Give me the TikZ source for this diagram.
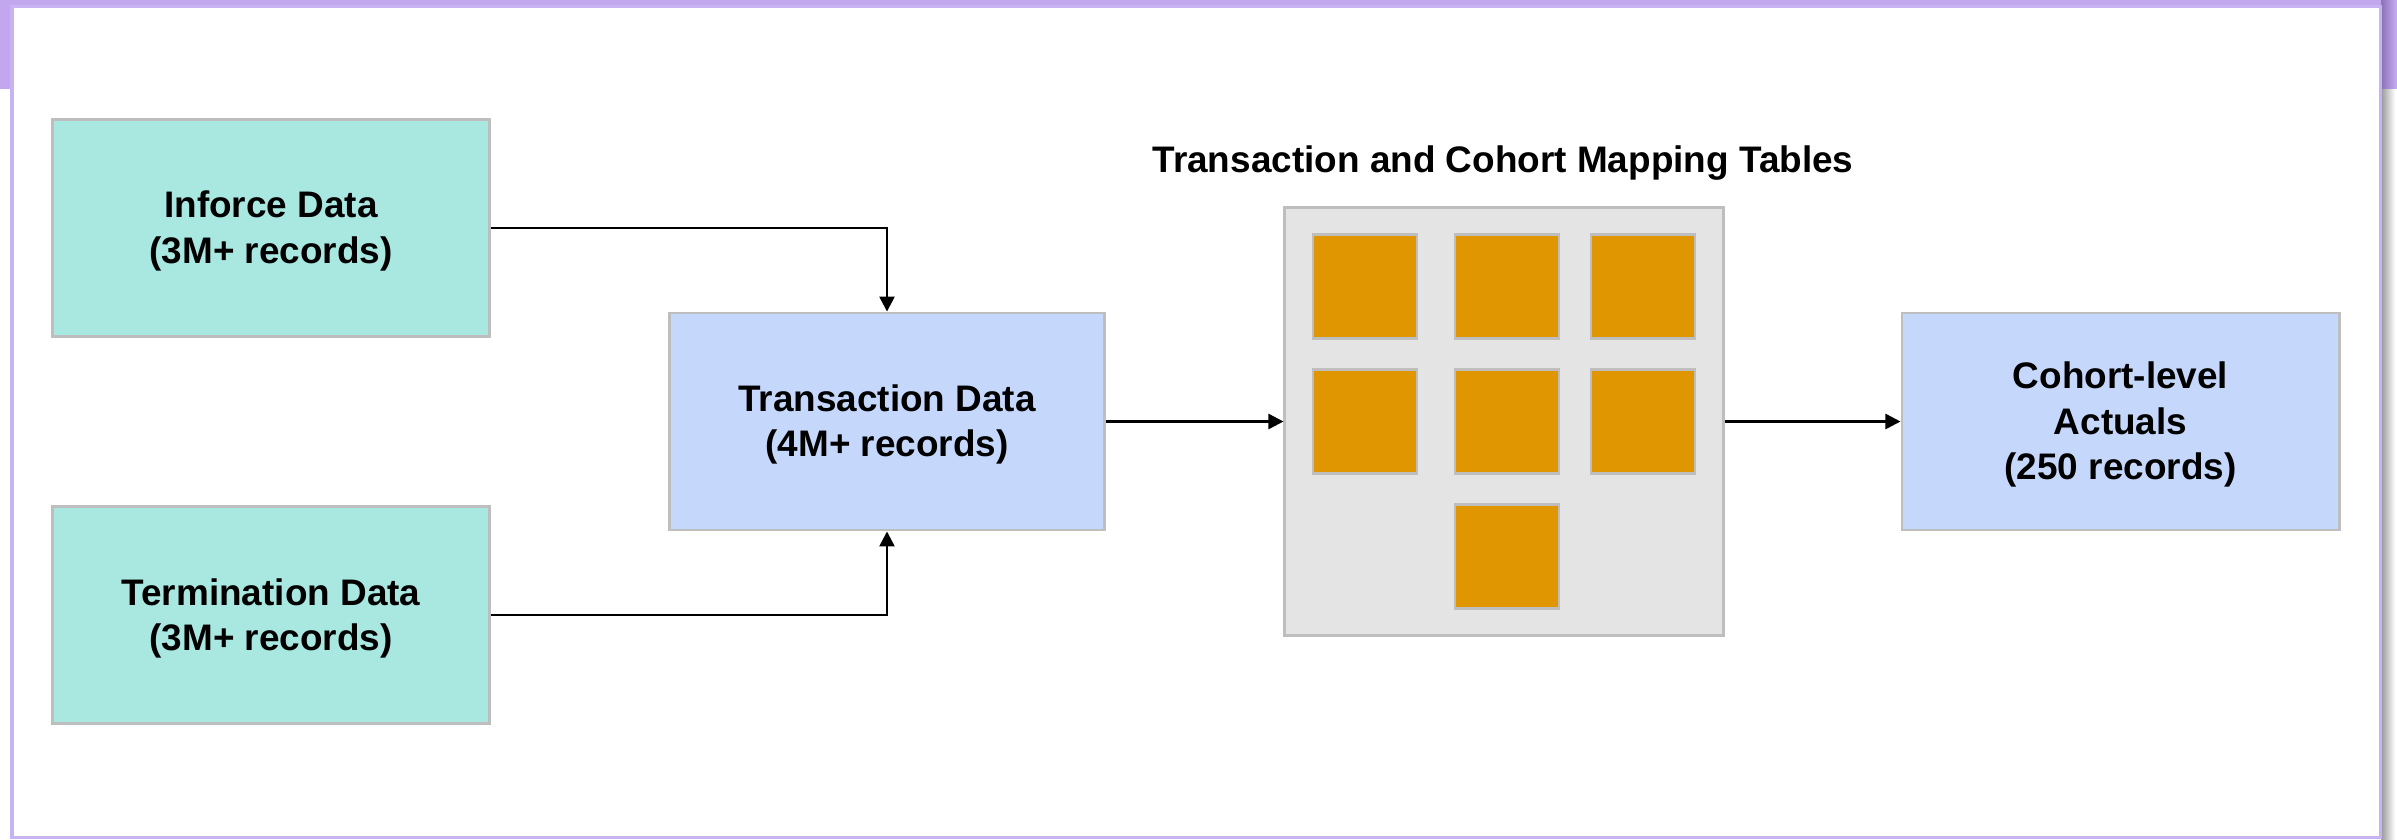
\documentclass[tikz,border=0pt]{standalone}
\usepackage{fontspec}
\setmainfont{Liberation Sans}
\usetikzlibrary{arrows.meta}

\definecolor{barpurple}{HTML}{C2A6EE}
\definecolor{edgepurple}{HTML}{C7B3F2}
\definecolor{shadepurple}{HTML}{8A72B6}
\definecolor{boxgray}{HTML}{BEBEBE}
\definecolor{inputteal}{HTML}{A9E7E1}
\definecolor{stageblue}{HTML}{C5D8FB}
\definecolor{tablegray}{HTML}{E4E4E4}
\definecolor{tableorange}{HTML}{DF9600}

\begin{document}
\begin{tikzpicture}[x = 0.01cm, y = -0.01cm, line width = 0.7pt,
                    datanode/.style = {draw = boxgray, line width = 0.028cm, align = center,
                                       inner sep = 0pt, minimum width = 4.37cm, minimum height = 2.17cm,
                                       text depth = 0.5pt, font = \fontsize{10.5}{12.8}\selectfont\bfseries},
                    tablebox/.style = {draw = boxgray, line width = 0.028cm, fill = tableorange,
                                       inner sep = 0pt, minimum size = 1.04cm},
                    flow/.style = {-{Triangle[length = 0.15cm, width = 0.15cm]}, line width = 0.025cm}]

\useasboundingbox (0,0) rectangle (2397,839);

% slide frame
\fill[barpurple] (0,0) rectangle (2397,89);
\shade[left color = shadepurple, right color = barpurple] (2381,0) rectangle (2395,89);
\shade[left color = black!40, right color = white] (2381,89) rectangle (2395,839);
\draw[edgepurple, fill = white, line width = 0.03cm] (12,6) rectangle (2380,837);

% sources
\node [datanode, fill = inputteal] (inforce) at (271,228) {Inforce Data\\(3M+ records)};
\node [datanode, fill = inputteal] (termination) at (271,615) {Termination Data\\(3M+ records)};

% transaction data
\node [datanode, fill = stageblue, minimum width = 4.35cm] (transaction) at (887,421.5) {Transaction Data\\(4M+ records)};

% mapping tables
\node [draw = boxgray, line width = 0.028cm, fill = tablegray, inner sep = 0pt,
       minimum width = 4.38cm, minimum height = 4.27cm] (mapping) at (1504,421.5) {};
\node [font = \fontsize{10.5}{12.8}\selectfont\bfseries, text depth = 0.5pt] (maptitle) at (1503,160) {Transaction and Cohort Mapping Tables};
\foreach \dx/\dy [count = \i] in {-139/-135, 3/-135, 139/-135, -139/0, 3/0, 139/0, 3/135}
  \node [tablebox] (table\i) at (1504+\dx,421.5+\dy) {};

% result
\node [datanode, fill = stageblue] (cohort) at (2120.5,421.5) {Cohort-level\\Actuals\\(250 records)};

\draw[flow] (inforce.east) -| (transaction.north);
\draw[flow] (termination.east) -| (transaction.south);
\draw[flow] (transaction.east) -- (mapping.west);
\draw[flow] (mapping.east) -- (cohort.west);
\end{tikzpicture}
\end{document}
